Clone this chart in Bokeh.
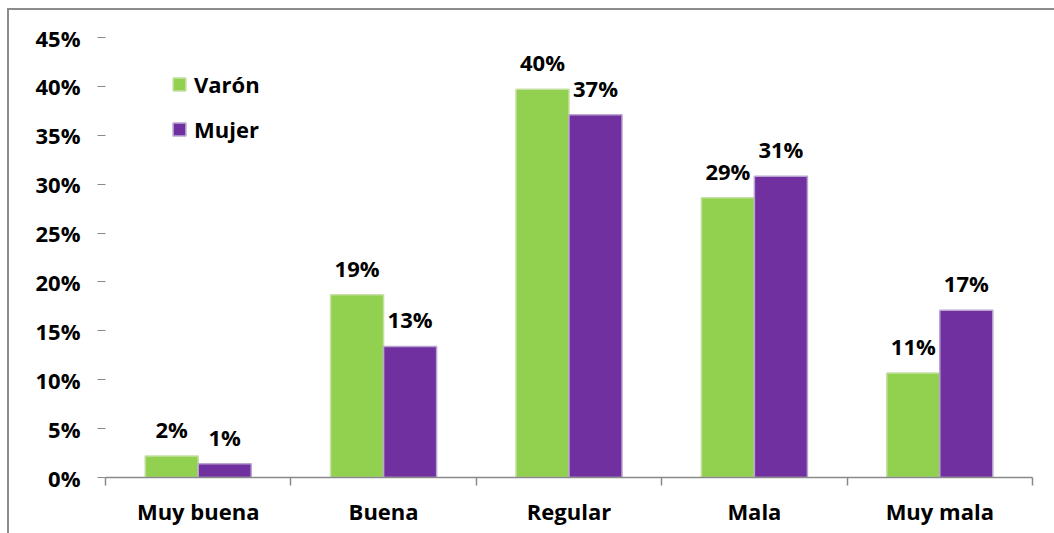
from bokeh.plotting import figure
from bokeh.models import (ColumnDataSource, Range1d, LinearAxis, FixedTicker,
                          PrintfTickFormatter, Legend, LegendItem)
from bokeh.layouts import column
from bokeh.transform import dodge
from bokeh.embed import file_html
from bokeh.resources import INLINE
from bokeh.core.properties import value

# Opinion categories and share of respondents (%) by sex
categories = ["Muy buena", "Buena", "Regular", "Mala", "Muy mala"]
varon = [2.2, 18.7, 39.7, 28.6, 10.7]
mujer = [1.4, 13.4, 37.1, 30.8, 17.1]
y_ticks = [0, 5, 10, 15, 20, 25, 30, 35, 40, 45]

GREEN = "#92d050"
GREEN_EDGE = "#c6e0a4"
PURPLE = "#7030a0"
PURPLE_EDGE = "#b9a5cf"
AXIS_GRAY = "#8a8a8a"
FONT = "Open Sans"

n = len(categories)
centers = [i + 0.5 for i in range(n)]   # each category occupies one unit

src = ColumnDataSource(dict(
    xc=centers,
    varon=varon,
    mujer=mujer,
    varon_lbl=[f"{round(v)}%" for v in varon],
    mujer_lbl=[f"{round(v)}%" for v in mujer],
))

p = figure(
    x_range=Range1d(0, n),
    y_range=Range1d(0, 45),
    width=1045, height=523,
    output_backend="svg", toolbar_location=None,
    x_axis_location=None, y_axis_location=None,
    min_border_left=96, min_border_right=22,
    min_border_top=27, min_border_bottom=56,
)
p.outline_line_color = None
p.xgrid.visible = False
p.ygrid.visible = False
p.background_fill_color = "white"
p.border_fill_color = "white"

BAR_W = 0.286
r_v = p.vbar(x=dodge("xc", -BAR_W / 2), top="varon", width=BAR_W,
             source=src, fill_color=GREEN, line_color=GREEN_EDGE, line_width=1.5)
r_m = p.vbar(x=dodge("xc", BAR_W / 2), top="mujer", width=BAR_W,
             source=src, fill_color=PURPLE, line_color=PURPLE_EDGE, line_width=1.5)

# value labels above the bars
for xoff, col, lbl in [(-BAR_W / 2, "varon", "varon_lbl"), (BAR_W / 2, "mujer", "mujer_lbl")]:
    p.text(x=dodge("xc", xoff), y=col, text=lbl, source=src,
           text_align="center", text_baseline="alphabetic", y_offset=-27,
           text_font=value(FONT), text_font_style="bold",
           text_font_size="22px", text_color="black")

# y axis: ticks only, no axis line
yaxis = LinearAxis(ticker=FixedTicker(ticks=y_ticks),
                   formatter=PrintfTickFormatter(format="%d%%"))
yaxis.axis_line_color = None
yaxis.major_tick_line_color = AXIS_GRAY
yaxis.major_tick_out = 8
yaxis.major_tick_in = 0
yaxis.minor_tick_line_color = None
yaxis.major_label_standoff = 17
yaxis.major_label_text_font = FONT
yaxis.major_label_text_font_style = "bold"
yaxis.major_label_text_font_size = "22px"
yaxis.major_label_text_color = "black"
p.add_layout(yaxis, "left")

# x axis line with tick marks at category boundaries
bound_axis = LinearAxis(ticker=FixedTicker(ticks=list(range(n + 1))))
bound_axis.axis_line_color = AXIS_GRAY
bound_axis.axis_line_width = 1.5
bound_axis.major_tick_line_color = AXIS_GRAY
bound_axis.major_tick_line_width = 1.5
bound_axis.major_tick_out = 8
bound_axis.major_tick_in = 0
bound_axis.minor_tick_line_color = None
bound_axis.major_label_overrides = {i: "" for i in range(n + 1)}
bound_axis.major_label_text_font_size = "0px"
bound_axis.major_label_standoff = 0
p.add_layout(bound_axis, "below")

# category names centred under each pair of bars
cat_axis = LinearAxis(ticker=FixedTicker(ticks=centers))
cat_axis.major_label_overrides = {c: name for c, name in zip(centers, categories)}
cat_axis.axis_line_color = None
cat_axis.major_tick_line_color = None
cat_axis.minor_tick_line_color = None
cat_axis.major_tick_out = 0
cat_axis.major_tick_in = 0
cat_axis.major_label_standoff = 10
cat_axis.major_label_text_font = FONT
cat_axis.major_label_text_font_style = "bold"
cat_axis.major_label_text_font_size = "22px"
cat_axis.major_label_text_color = "black"
p.add_layout(cat_axis, "below")

legend = Legend(items=[LegendItem(label="Varón", renderers=[r_v]),
                       LegendItem(label="Mujer", renderers=[r_m])],
                location=(66, 333))
legend.glyph_width = 16
legend.glyph_height = 16
legend.label_height = 30
legend.spacing = 15
legend.padding = 0
legend.margin = 0
legend.label_standoff = 7
legend.border_line_color = None
legend.background_fill_alpha = 0
legend.label_text_font = FONT
legend.label_text_font_style = "bold"
legend.label_text_font_size = "22px"
legend.label_text_color = "black"
p.add_layout(legend, "center")

page = column(p, styles={
    "margin-left": "7px", "margin-top": "8px",
    "border-left": "2px solid #8c8c8c", "border-top": "2px solid #8c8c8c",
})

open("out.html", "w").write(file_html(page, INLINE))
